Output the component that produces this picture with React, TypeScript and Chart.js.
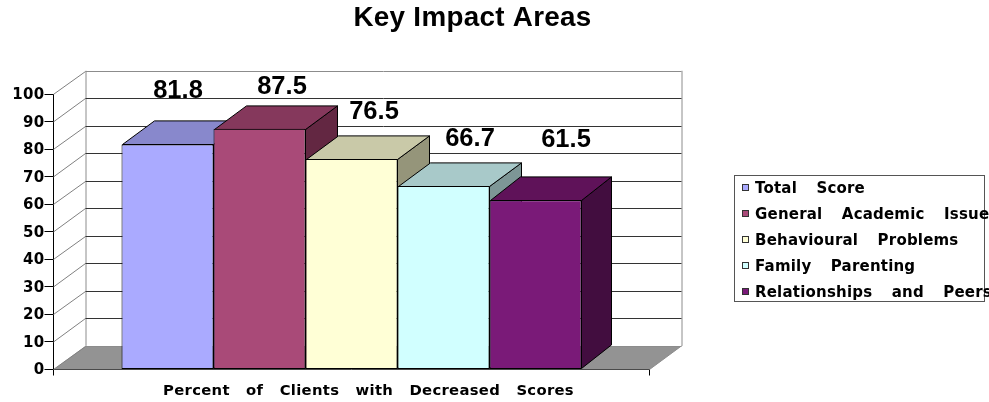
import React, { useEffect, useRef } from "react";
import { Chart, registerables } from "chart.js";

Chart.register(...registerables);

const TITLE = "Key Impact Areas";
const categories = ["Percent of Clients with Decreased Scores"];
const seriesNames = [
  "Total Score",
  "General Academic Issues",
  "Behavioural Problems",
  "Family Parenting",
  "Relationships and Peers",
];
const seriesValues = [81.8, 87.5, 76.5, 66.7, 61.5];
const frontColors = ["#AAAAFF", "#A94A78", "#FFFFD6", "#D1FFFF", "#7A1A78"];
const topColors = ["#8888CC", "#85385C", "#C9C9A8", "#A8C9C9", "#5F1259"];
const sideColors = ["#6A6AA0", "#632742", "#95957A", "#7D9696", "#420D3F"];
const yTicks = { min: 0, max: 100, step: 10 };

// Hand-placed value labels in the reference: offsets from each bar's top centre.
const labelNudgeX = [10.5, 22.5, 22.5, 26.5, 30.5];
const labelNudgeY = [-46, -34.4, -40, -39.5, -53];

const DEPTH_X = 32;
const DEPTH_Y = 23.6;
const UI_FONT = "'DejaVu Sans'";

function drawFaces(chart: any, i: number) {
  const { ctx: c } = chart;
  const bar = chart.getDatasetMeta(i).data[0].getProps(["x", "y", "base", "width"], true);
  const l = Math.round(bar.x - bar.width / 2) + 0.5;
  const r = Math.round(bar.x + bar.width / 2) - 0.5;
  const t = Math.round(bar.y) + 0.5;
  const b = Math.round(bar.base) - 0.5;
  const dx = i === seriesValues.length - 1 ? DEPTH_X - 2 : DEPTH_X;
  c.save();
  c.lineWidth = 1;
  c.strokeStyle = "#000";
  c.lineJoin = "miter";
  c.fillStyle = sideColors[i];
  c.beginPath();
  c.moveTo(r, t);
  c.lineTo(r + dx, t - DEPTH_Y);
  c.lineTo(r + dx, b - DEPTH_Y);
  c.lineTo(r, b);
  c.closePath();
  c.fill();
  c.stroke();
  c.fillStyle = topColors[i];
  c.beginPath();
  c.moveTo(l, t);
  c.lineTo(l + dx, t - DEPTH_Y);
  c.lineTo(r + dx, t - DEPTH_Y);
  c.lineTo(r, t);
  c.closePath();
  c.fill();
  c.stroke();
  c.restore();
}

const threeD = {
  id: "threeD",
  beforeDraw(chart: any) {
    chart.ctx.letterSpacing = "0.3px";
  },
  afterLayout(chart: any) {
    // centre the title over the area the reference centres it on
    chart.titleBlock.left = 0;
    chart.titleBlock.right = 945;
  },
  beforeDatasetsDraw(chart: any) {
    const { ctx: c, chartArea: a, scales } = chart;
    const y = scales.y;
    const y0 = y.getPixelForValue(0);
    const yTop = y.getPixelForValue(100);
    c.save();
    c.lineWidth = 1;
    // floor
    c.fillStyle = "#939393";
    c.beginPath();
    c.moveTo(a.left, y0);
    c.lineTo(a.left + DEPTH_X, y0 - DEPTH_Y);
    c.lineTo(a.right + DEPTH_X, y0 - DEPTH_Y);
    c.lineTo(a.right, y0);
    c.closePath();
    c.fill();
    // walls
    c.strokeStyle = "#8c8c8c";
    c.beginPath();
    c.moveTo(a.left + DEPTH_X + 0.5, y0 - DEPTH_Y);
    c.lineTo(a.left + DEPTH_X + 0.5, yTop - DEPTH_Y);
    c.moveTo(a.right + DEPTH_X + 0.5, y0 - DEPTH_Y);
    c.lineTo(a.right + DEPTH_X + 0.5, yTop - DEPTH_Y);
    c.moveTo(a.right, y0);
    c.lineTo(a.right + DEPTH_X, y0 - DEPTH_Y);
    c.stroke();
    // grid lines
    y.ticks.forEach((t: any) => {
      const py = y.getPixelForValue(t.value);
      const back = Math.round(py - DEPTH_Y) + 0.5;
      c.strokeStyle = "#808080";
      c.beginPath();
      c.moveTo(a.left, py);
      c.lineTo(a.left + DEPTH_X, back);
      c.stroke();
      c.strokeStyle = t.value === 100 || t.value === 0 ? "#8c8c8c" : "#333333";
      c.beginPath();
      c.moveTo(a.left + DEPTH_X, back);
      c.lineTo(a.right + DEPTH_X, back);
      c.stroke();
    });
    c.restore();
  },
  // The library paints the first dataset last; the reference paints left to right,
  // so the bars are painted from afterDatasetsDraw in reading order instead.
  beforeDatasetDraw() {
    return false;
  },
  afterDatasetsDraw(chart: any) {
    const { ctx: c } = chart;
    seriesValues.forEach((_v, i) => {
      drawFaces(chart, i);
      chart.getDatasetMeta(i).controller.draw();
    });
    c.save();
    c.letterSpacing = "0px";
    c.font = "bold 25.5px 'Liberation Sans'";
    c.fillStyle = "#000";
    c.textAlign = "center";
    c.textBaseline = "alphabetic";
    seriesValues.forEach((v, i) => {
      const el = chart.getDatasetMeta(i).data[0];
      c.fillText(v.toFixed(1), el.x + labelNudgeX[i], el.y + labelNudgeY[i]);
    });
    c.restore();
  },
  afterDraw(chart: any) {
    const { ctx: c } = chart;
    c.save();
    // legend
    c.lineWidth = 1;
    c.strokeStyle = "#555";
    c.strokeRect(734.5, 175.5, 250, 126);
    c.font = `bold 15px ${UI_FONT}`;
    c.letterSpacing = "0.2px";
    c.wordSpacing = "14px";
    c.textBaseline = "middle";
    c.textAlign = "left";
    chart.data.datasets.forEach((d: any, i: number) => {
      const cy = Math.round(188 + i * 26);
      c.fillStyle = d.backgroundColor;
      c.strokeStyle = "#333";
      c.fillRect(742.5, cy - 3.5, 6, 6);
      c.strokeRect(742.5, cy - 3.5, 6, 6);
      c.fillStyle = "#000";
      c.fillText(d.label, 755, cy + 1);
    });
    c.restore();
  },
};

export default function App() {
  const ref = useRef<HTMLCanvasElement>(null);
  useEffect(() => {
    const chart = new Chart(ref.current!, {
      type: "bar",
      data: {
        labels: categories,
        datasets: seriesNames.map((label, i) => ({
          label,
          data: [seriesValues[i]],
          backgroundColor: frontColors[i],
          borderColor: "#000",
          borderWidth: 1,
          borderSkipped: false,
        })),
      } as any,
      options: {
        responsive: false,
        animation: false,
        devicePixelRatio: 1,
        layout: { padding: { left: 0, right: 339.5, top: 0, bottom: 0 } },
        datasets: { bar: { barPercentage: 1, categoryPercentage: 460 / 596 } },
        plugins: {
          legend: { display: false },
          tooltip: { enabled: false },
          title: {
            display: true,
            text: TITLE,
            color: "#000",
            font: { family: "'Liberation Sans'", size: 27.8, weight: "bold", lineHeight: 1.2 },
            padding: { top: 1.5, bottom: 59.5 },
          },
        },
        scales: {
          x: {
            grid: { drawOnChartArea: false, color: "#000", tickLength: 6, tickColor: "#000", offset: true },
            border: { color: "#000" },
            ticks: {
              color: "#000",
              font: { family: UI_FONT, size: 14.8, weight: "bold" },
              padding: 7,
              labelOffset: 17,
              maxRotation: 0,
              callback: (_v: any, i: number) => categories[i].replace(/ /g, "   "),
            },
            afterFit(s: any) { s.height = 32.5; },
          },
          y: {
            min: yTicks.min,
            max: yTicks.max,
            grid: { drawOnChartArea: false, color: "#000", tickLength: 9, tickColor: "#000" },
            border: { color: "#000" },
            ticks: {
              stepSize: yTicks.step,
              color: "#000",
              font: { family: UI_FONT, size: 15, weight: "bold" },
              padding: 0,
              labelOffset: 1,
            },
            afterFit(s: any) { s.width = 53.5; },
          },
        },
      } as any,
      plugins: [threeD],
    });
    return () => chart.destroy();
  }, []);
  return (
    <div style={{ position: "absolute", left: 0, top: 0, width: 989, height: 402, background: "#fff", overflow: "hidden" }}>
      <canvas ref={ref} width={989} height={402} style={{ display: "block" }} />
    </div>
  );
}
